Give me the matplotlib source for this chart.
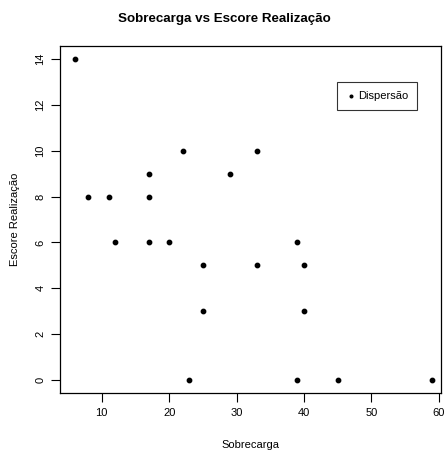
import matplotlib

matplotlib.use("Agg")
import matplotlib.pyplot as plt

plt.rcParams["font.family"] = ["Liberation Sans", "DejaVu Sans"]

# data
sobrecarga = [6, 8, 11, 12, 17, 17, 17, 20, 22, 23, 25, 25, 29, 33, 33, 39, 39, 40, 40, 45, 59]
escore = [14, 8, 8, 6, 9, 8, 6, 6, 10, 0, 5, 3, 9, 10, 5, 6, 0, 5, 3, 0, 0]
x_ticks = [10, 20, 30, 40, 50, 60]
y_ticks = [0, 2, 4, 6, 8, 10, 12, 14]

W, H = 448, 450
fig = plt.figure(figsize=(W / 100, H / 100), dpi=100)
ax = fig.add_axes([60 / W, 1 - 393 / H, (441 - 60) / W, (393 - 46) / H])

ax.scatter(sobrecarga, escore, s=10, color="black", label="Dispersão", zorder=3)

ax.set_xlim(3.8, 60.35)
ax.set_ylim(-0.58, 14.58)
ax.set_xticks(x_ticks)
ax.set_yticks(y_ticks)
ax.tick_params(direction="out", length=6.5, width=0.8, labelsize=8, pad=4)
for lbl in ax.get_yticklabels():
    lbl.set_rotation(90)
    lbl.set_va("center")
for s in ax.spines.values():
    s.set_linewidth(0.9)

ax.set_xlabel("Sobrecarga", fontsize=8, labelpad=16)
ax.set_ylabel("Escore Realização", fontsize=8, labelpad=11)

fig.text(0.5, 1 - 19 / H, "Sobrecarga vs Escore Realização",
         ha="center", va="center", fontsize=9.6, fontweight="bold")

leg = ax.legend(loc="upper left", bbox_to_anchor=((337 - 60) / (441 - 60), (393 - 82) / (393 - 46)),
                borderaxespad=0, fontsize=8, frameon=True, fancybox=False, edgecolor="black",
                handletextpad=0.1, borderpad=0.8, handlelength=1.0, markerscale=0.6)
leg.get_frame().set_linewidth(0.8)

fig.savefig("out.png", dpi=100)
